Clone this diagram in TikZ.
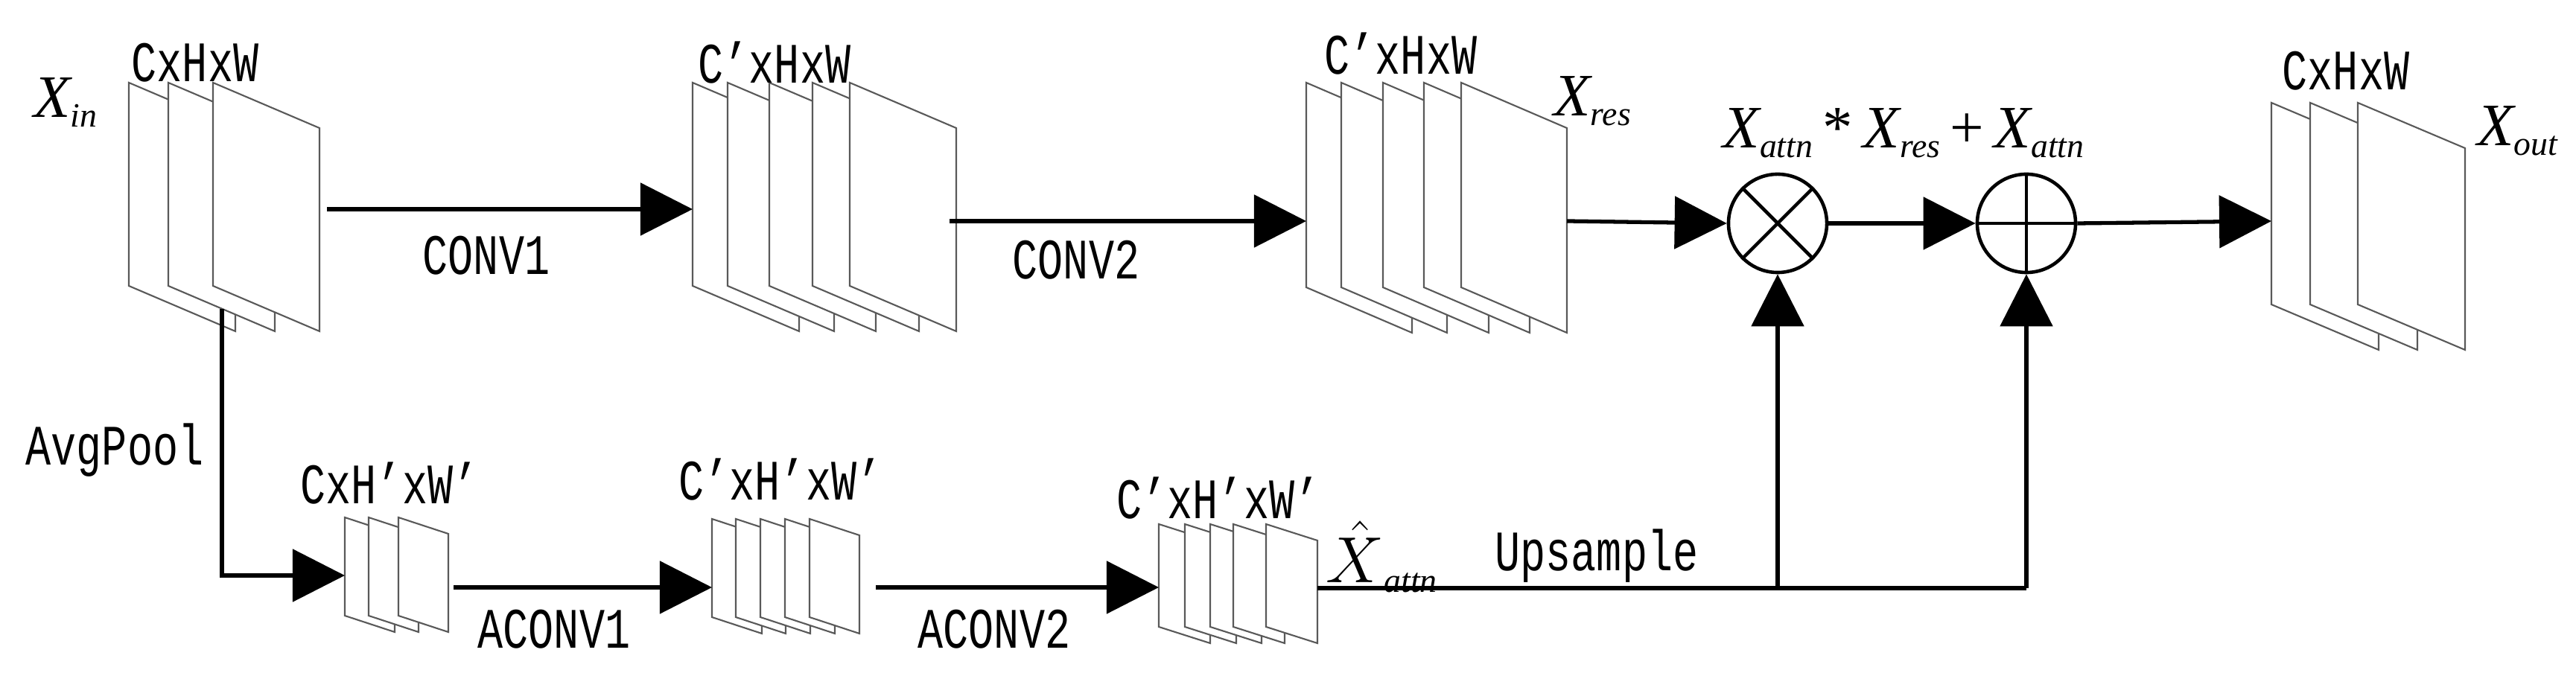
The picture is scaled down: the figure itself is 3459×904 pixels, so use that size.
\documentclass[tikz,border=0pt]{standalone}
\usepackage{fontspec}
\usepackage{graphicx}
\setmainfont{Liberation Serif}
\newfontfamily\lab{Liberation Mono}
\usetikzlibrary{arrows.meta}
\newcommand\fmap[5]{\filldraw[fmap] (#1,#2)--++(#3,#4)--++(0,#5)--++(-#3,-#4)--cycle;}
\newcommand\T[1]{\scalebox{0.85}[1.15]{#1}}
\newcommand\sbs[1]{\raisebox{-0.35ex}{\fontsize{13}{13}\selectfont #1}}
\tikzset{
  fmap/.style={fill=white,draw=black!65,line width=0.6pt},
  conn/.style={line width=1.5pt,-{Triangle[length=0.7cm,width=0.7cm]}},
  line/.style={line width=1.5pt},
  txt/.style={font=\lab\fontsize{19}{19}\selectfont,inner sep=0pt},
  mth/.style={font=\fontsize{23}{23}\selectfont\itshape,inner sep=0pt},
  op/.style={circle,draw,line width=1.3pt,minimum size=1.32cm,inner sep=0pt}
}
\begin{document}
\begin{tikzpicture}[x=0.01cm,y=-0.01cm]
\useasboundingbox (0,0) rectangle (3459,904);
% stacks
\foreach \x in {173,226,286}{\fmap{\x}{111}{143}{61}{273}}
\foreach \x in {930,977,1033,1091,1141}{\fmap{\x}{111}{143}{61}{273}}
\foreach \x in {1754,1801,1857,1912,1962}{\fmap{\x}{111}{142}{61}{275}}
\foreach \x in {3050,3102,3166}{\fmap{\x}{138}{144}{61}{271}}
\foreach \x in {463,495,535}{\fmap{\x}{695}{67}{22}{132}}
\foreach \x in {956,988,1021,1054,1087}{\fmap{\x}{697}{67}{22}{132}}
\foreach \x in {1556,1591,1625,1656,1700}{\fmap{\x}{704}{69}{22}{138}}
% coordinates
\coordinate (s1o) at (439,281);
\coordinate (s2i) at (930,281);
\coordinate (s2o) at (1275,297);
\coordinate (s3i) at (1754,297);
\coordinate (s3o) at (2104,297);
\coordinate (s4i) at (3050,297);
\coordinate (p0) at (298,415);
\coordinate (p1) at (298,773);
\coordinate (a1i) at (463,773);
\coordinate (a1o) at (609,789);
\coordinate (a2i) at (956,789);
\coordinate (a2o) at (1176,789);
\coordinate (a3i) at (1556,789);
\coordinate (a3o) at (1769,790);
\coordinate (br) at (2387,790);
\coordinate (ce) at (2721,790);
\node[op] (mul) at (2387,300) {};
\node[op] (add) at (2721,300) {};
\draw[line width=1.3pt] (mul.north west)--(mul.south east) (mul.north east)--(mul.south west);
\draw[line width=1.3pt] (add.north)--(add.south) (add.west)--(add.east);
% connectors
\draw[conn] (s1o) -- (s2i);
\draw[conn] (s2o) -- (s3i);
\draw[conn] (s3o) -- (mul.west);
\draw[conn] (mul.east) -- (add.west);
\draw[conn] (add.east) -- (s4i);
\draw[conn] (p0) -- (p1) -- (a1i);
\draw[conn] (a1o) -- (a2i);
\draw[conn] (a2o) -- (a3i);
\draw[line] (a3o) -- (ce);
\draw[conn] (br) -- (mul.south);
\draw[conn] (ce) -- (add.south);
% labels
\node[txt] (l1) at (262,84) {\T{CxHxW}};
\node[mth] (xin) at (88,138) {X\sbs{in}};
\node[txt] (l2) at (1040,84) {\T{C\textquoteright xHxW}};
\node[txt] (l3) at (1881,72) {\T{C\textquoteright xHxW}};
\node[mth] (xres) at (2138,136) {X\sbs{res}};
\node[mth] (form) at (2556,179) {X\sbs{attn}\,\upshape*\,\itshape X\sbs{res}\,\upshape+\,\itshape X\sbs{attn}};
\node[txt] (l4) at (3150,95) {\T{CxHxW}};
\node[mth] (xout) at (3380,176) {X\sbs{out}};
\node[txt] (c1) at (653,343) {\T{CONV1}};
\node[txt] (c2) at (1445,349) {\T{CONV2}};
\node[txt] (ap) at (154,605) {\T{AvgPool}};
\node[txt] (l5) at (523,649) {\T{CxH\textquoteright xW\textquoteright}};
\node[txt] (l6) at (1048,644) {\T{C\textquoteright xH\textquoteright xW\textquoteright}};
\node[txt] (l7) at (1636,669) {\T{C\textquoteright xH\textquoteright xW\textquoteright}};
\node[mth] (xh) at (1855,748) {$\hat{X}$\sbs{attn}};
\node[txt] (ac1) at (744,845) {\T{ACONV1}};
\node[txt] (ac2) at (1335,845) {\T{ACONV2}};
\node[txt] (up) at (2144,747) {\T{Upsample}};
\end{tikzpicture}
\end{document}
